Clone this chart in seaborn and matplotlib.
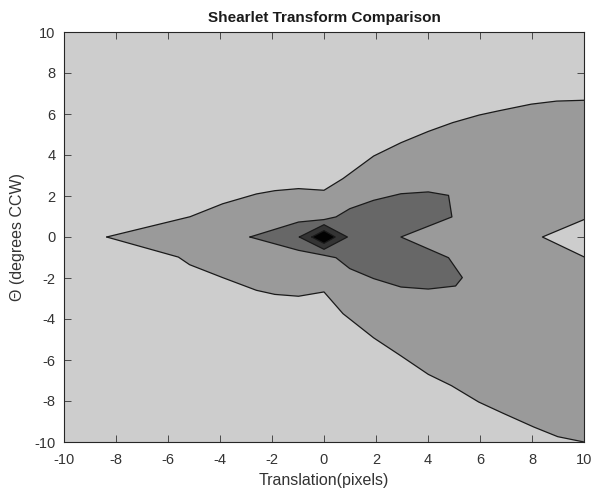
import numpy as np
import pandas as pd
import matplotlib
matplotlib.use("Agg")
import matplotlib.pyplot as plt
import seaborn as sns

# ---- contour boundaries (data units) ----
# level 1 (medium gray) region: upper edge (left -> right)
lvl1_upper_x = [-8.36, -5.15, -3.90, -2.60, -1.89, -0.98, 0.00, 0.73, 1.91, 2.96, 4.01, 4.95, 5.97, 6.70, 7.97, 8.95, 10.0]
lvl1_upper_y = [0.00, 0.99, 1.62, 2.10, 2.26, 2.36, 2.28, 2.85, 3.95, 4.60, 5.15, 5.58, 5.95, 6.15, 6.48, 6.63, 6.67]
# right edge notch (top -> bottom)
lvl1_notch_x = [10.0, 8.40, 10.0]
lvl1_notch_y = [0.85, 0.00, -0.97]
# lower edge (left -> right)
lvl1_lower_x = [-8.36, -5.60, -5.17, -3.90, -2.60, -1.89, -0.98, 0.00, 0.73, 1.91, 2.96, 4.01, 4.90, 5.95, 6.89, 8.07, 8.99, 10.0]
lvl1_lower_y = [0.00, -0.98, -1.35, -1.98, -2.60, -2.80, -2.89, -2.68, -3.74, -4.92, -5.80, -6.70, -7.25, -8.05, -8.60, -9.27, -9.74, -10.0]

# level 2 (dark gray) region, closed loop
lvl2_x = [-2.85, -0.98, 0.00, 0.46, 0.99, 1.91, 2.96, 4.01, 4.79, 4.92, 2.96, 4.79, 5.32, 5.06, 4.01, 2.96, 1.91, 0.99, 0.46, 0.00, -0.98]
lvl2_y = [0.00, 0.73, 0.85, 0.98, 1.38, 1.79, 2.11, 2.20, 2.03, 0.98, 0.00, -1.01, -1.98, -2.39, -2.54, -2.44, -2.03, -1.54, -1.01, -0.89, -0.65]

# level 3 (darker) diamond
lvl3_x = [-0.95, 0.00, 0.90, 0.00]
lvl3_y = [0.00, 0.60, 0.00, -0.60]

# level 4 (black) diamond
lvl4_x = [-0.47, 0.00, 0.43, 0.00]
lvl4_y = [0.00, 0.31, 0.00, -0.31]

x_ticks = [-10, -8, -6, -4, -2, 0, 2, 4, 6, 8, 10]
y_ticks = [-10, -8, -6, -4, -2, 0, 2, 4, 6, 8, 10]

level_colors = ["#cdcdcd", "#9a9a9a", "#676767", "#343434", "#020202"]

sns.set_style("white")
plt.rcParams["font.family"] = ["Liberation Sans", "DejaVu Sans"]

fig = plt.figure(figsize=(5.95, 4.95), dpi=100)
ax = fig.add_axes([64 / 595, 1 - 442 / 495, 520 / 595, 410 / 495])
ax.set_facecolor(level_colors[0])

# build polygon for level 1
poly1_x = lvl1_upper_x + lvl1_notch_x + lvl1_lower_x[::-1]
poly1_y = lvl1_upper_y + lvl1_notch_y + lvl1_lower_y[::-1]

polys = [
    (poly1_x, poly1_y, level_colors[1]),
    (lvl2_x, lvl2_y, level_colors[2]),
    (lvl3_x, lvl3_y, level_colors[3]),
    (lvl4_x, lvl4_y, level_colors[4]),
]

for px, py, col in polys:
    ax.fill(px, py, facecolor=col, edgecolor="none", zorder=1)

# contour lines
lines = [
    (lvl1_upper_x, lvl1_upper_y),
    (lvl1_lower_x, lvl1_lower_y),
    (lvl1_notch_x, lvl1_notch_y),
    (lvl2_x + lvl2_x[:1], lvl2_y + lvl2_y[:1]),
    (lvl3_x + lvl3_x[:1], lvl3_y + lvl3_y[:1]),
    (lvl4_x + lvl4_x[:1], lvl4_y + lvl4_y[:1]),
]
for lx, ly in lines:
    df = pd.DataFrame({"x": lx, "y": ly, "o": range(len(lx))})
    sns.lineplot(data=df, x="x", y="y", sort=False, estimator=None,
                 color="#1a1a1a", lw=0.9, ax=ax, zorder=3)

ax.set_xlim(-10, 10)
ax.set_ylim(-10, 10)
ax.set_xticks(x_ticks)
ax.set_yticks(y_ticks)
ax.set_xticklabels([str(t) for t in x_ticks])
ax.set_yticklabels([str(t) for t in y_ticks])
ax.tick_params(direction="in", length=5, width=0.6, top=True, right=True,
               bottom=True, left=True, labelsize=10.5, colors="#333333")
ax.tick_params(axis="x", pad=8)
ax.tick_params(axis="y", pad=6)
for s in ax.spines.values():
    s.set_color("#262626")
    s.set_linewidth(0.8)
    s.set_visible(True)

ax.set_title("Shearlet Transform Comparison", fontsize=11, fontweight="bold",
             color="#1a1a1a", pad=7)
ax.set_xlabel("Translation(pixels)", fontsize=11.5, color="#333333", labelpad=4)
ax.set_ylabel("\u0398 (degrees CCW)", fontsize=11.5, color="#333333", labelpad=7)

fig.savefig("out.png", dpi=100)
